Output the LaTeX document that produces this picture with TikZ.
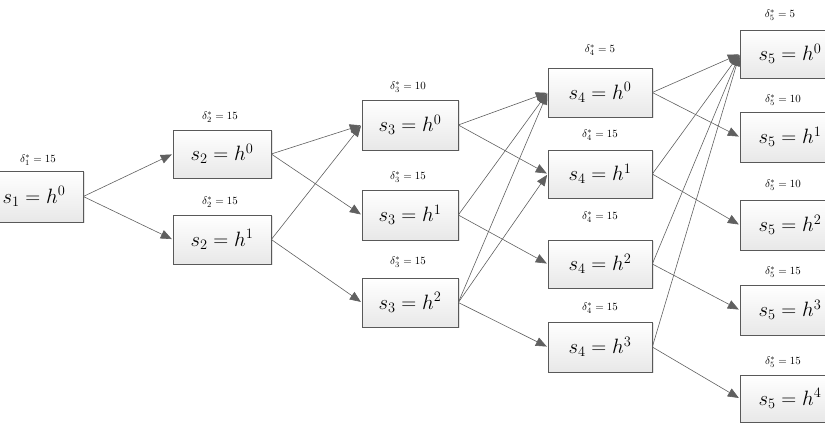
\documentclass[tikz,border=0pt]{standalone}
\usetikzlibrary{arrows.meta,shadows}
\begin{document}
\begin{tikzpicture}[x=1pt,y=-1pt,
 bx/.style={draw=gray!70!black,line width=0.6pt,top color=white,bottom color=gray!18,
   drop shadow={shadow xshift=1.5pt,shadow yshift=-1.5pt,fill=gray!40},
   minimum height=49pt,inner sep=0pt,font=\fontsize{21}{24}\selectfont},
 lb/.style={font=\fontsize{11}{13}\selectfont},
 ed/.style={draw=gray!75!black,line width=0.6pt,-{Triangle[length=11pt,width=9pt]},shorten >=1pt}]
\useasboundingbox (0,0) rectangle (825,435);
\clip (0,0) rectangle (825,435);
\newcommand\bnode[7]{% name, x1, x2, y1, y2, stage, h
 \node[bx,minimum width=#3-#2,minimum height=#5-#4] (#1) at ({(#2+#3)/2},{(#4+#5)/2}) {$s_{#6}=h^{#7}$};}
\bnode{a}{-15}{83}{171}{222}{1}{0}
\bnode{b0}{173}{271}{130}{178}{2}{0}
\bnode{b1}{173}{271}{215}{264}{2}{1}
\bnode{c0}{362}{458}{100}{150}{3}{0}
\bnode{c1}{362}{458}{190}{240}{3}{1}
\bnode{c2}{362}{458}{278}{327}{3}{2}
\bnode{d0}{548}{652}{68}{117}{4}{0}
\bnode{d1}{548}{652}{150}{198}{4}{1}
\bnode{d2}{548}{652}{240}{288}{4}{2}
\bnode{d3}{548}{652}{322}{372}{4}{3}
\bnode{e0}{740}{840}{30}{78}{5}{0}
\bnode{e1}{740}{840}{112}{162}{5}{1}
\bnode{e2}{740}{840}{200}{250}{5}{2}
\bnode{e3}{740}{840}{285}{335}{5}{3}
\bnode{e4}{740}{840}{375}{422}{5}{4}
\node[lb] (la) at (38,160) {$\delta_1^*=15$};
\node[lb] (lb0) at (220,117) {$\delta_2^*=15$};
\node[lb] (lb1) at (220,202) {$\delta_2^*=15$};
\node[lb] (lc0) at (408,87) {$\delta_3^*=10$};
\node[lb] (lc1) at (408,177) {$\delta_3^*=15$};
\node[lb] (lc2) at (408,262) {$\delta_3^*=15$};
\node[lb] (ld0) at (600,50) {$\delta_4^*=5$};
\node[lb] (ld1) at (600,135) {$\delta_4^*=15$};
\node[lb] (ld2) at (600,217) {$\delta_4^*=15$};
\node[lb] (ld3) at (600,308) {$\delta_4^*=15$};
\node[lb] (le0) at (780,15) {$\delta_5^*=5$};
\node[lb] (le1) at (783,100) {$\delta_5^*=10$};
\node[lb] (le2) at (783,185) {$\delta_5^*=10$};
\node[lb] (le3) at (783,272) {$\delta_5^*=15$};
\node[lb] (le4) at (783,362) {$\delta_5^*=15$};
\foreach \s/\t in {a/b0,a/b1,b0/c0,b0/c1,b1/c0,b1/c2,c0/d0,c0/d1,c1/d0,c1/d2,c2/d0,c2/d1,c2/d3,
  d0/e0,d0/e1,d1/e0,d1/e2,d2/e0,d2/e3,d3/e0,d3/e4}
  \draw[ed] (\s.east) -- (\t.west);
\end{tikzpicture}
\end{document}
